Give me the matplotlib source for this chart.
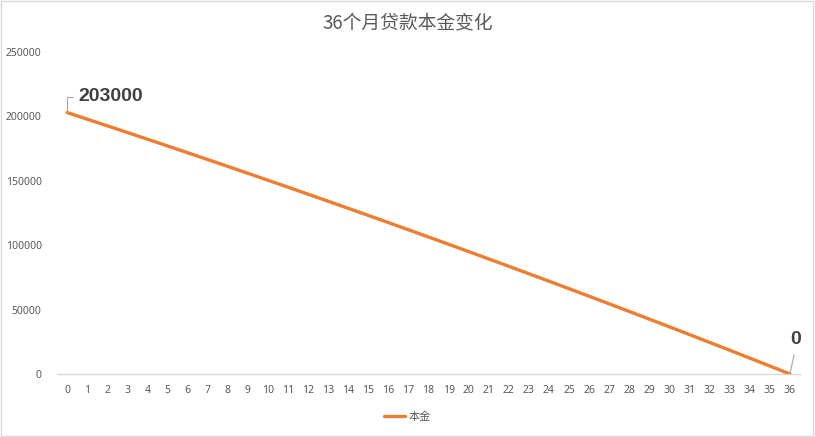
import matplotlib
matplotlib.use("Agg")
import matplotlib.pyplot as plt
from matplotlib.patches import Rectangle

months = list(range(37))
principal = [203000, 197870, 192720, 187530, 182320, 177080, 171820, 166520,
             161200, 155850, 150460, 145060, 139620, 134150, 128650, 123130,
             117570, 111990, 106370, 100730, 95050, 89340, 83610, 77840,
             72040, 66210, 60350, 54460, 48540, 42580, 36600, 30580,
             24530, 18440, 12330, 6180, 0]
title = "36个月贷款本金变化"
series_name = "本金"
yticks = [0, 50000, 100000, 150000, 200000, 250000]

CJK = ['Noto Sans CJK SC', 'DejaVu Sans']
NUM = ['Noto Sans', 'DejaVu Sans']
BOLD = ['Liberation Sans', 'DejaVu Sans']
grey = '#595959'
orange = '#ED7D31'

fig = plt.figure(figsize=(8.15, 4.37), dpi=100)
fig.patches.append(Rectangle((0.001, 0.002), 0.997, 0.995, transform=fig.transFigure,
                             fill=False, edgecolor='#D9D9D9', linewidth=1.0))
ax = fig.add_axes([57/815, 1-374/437, (800-57)/815, (374-52)/437])

line, = ax.plot(months, principal, color=orange, linewidth=2.4, label=series_name,
                solid_joinstyle='round', solid_capstyle='round')

ax.set_xlim(-0.5, 36.5)
ax.set_ylim(0, 250000)
ax.set_xticks(months)
ax.set_xticklabels([str(m) for m in months], fontsize=7.5, color=grey, family=NUM)
ax.set_yticks(yticks)
ax.set_yticklabels([str(v) for v in yticks], fontsize=7.5, color=grey, family=NUM)
ax.tick_params(axis='both', length=0)
ax.tick_params(axis='x', pad=8)
ax.tick_params(axis='y', pad=11)
for s in ['top', 'right', 'left']:
    ax.spines[s].set_visible(False)
ax.spines['bottom'].set_color('#D9D9D9')
ax.spines['bottom'].set_linewidth(1.0)
ax.spines['bottom'].set_zorder(0)

fig.text(0.5, 1-23/437, title, ha='center', va='center', fontsize=13.5,
         color=grey, family=CJK)

ax.annotate(str(principal[0]), xy=(months[0], principal[0]), xytext=(8, 11.5),
            textcoords='offset points', ha='left', va='center', fontsize=14,
            fontweight='bold', color='#404040', family=BOLD,
            arrowprops=dict(arrowstyle='-', color='#A6A6A6', lw=0.8,
                            shrinkA=2, shrinkB=0, relpos=(0, 0.5),
                            connectionstyle='angle,angleA=0,angleB=90,rad=0'))
ax.annotate(str(principal[-1]), xy=(months[-1], principal[-1]), xytext=(4, 25),
            textcoords='offset points', ha='center', va='center', fontsize=14,
            fontweight='bold', color='#404040', family=BOLD,
            arrowprops=dict(arrowstyle='-', color='#A6A6A6', lw=0.8,
                            shrinkA=3, shrinkB=0, relpos=(0.5, 0)))

leg = fig.legend(handles=[line], loc='center', bbox_to_anchor=(0.5, 1-417/437),
                 frameon=False, prop={'family': CJK, 'size': 8},
                 handlelength=1.9, handletextpad=0.3)
for t in leg.get_texts():
    t.set_color(grey)

fig.savefig('out.png', dpi=100)
